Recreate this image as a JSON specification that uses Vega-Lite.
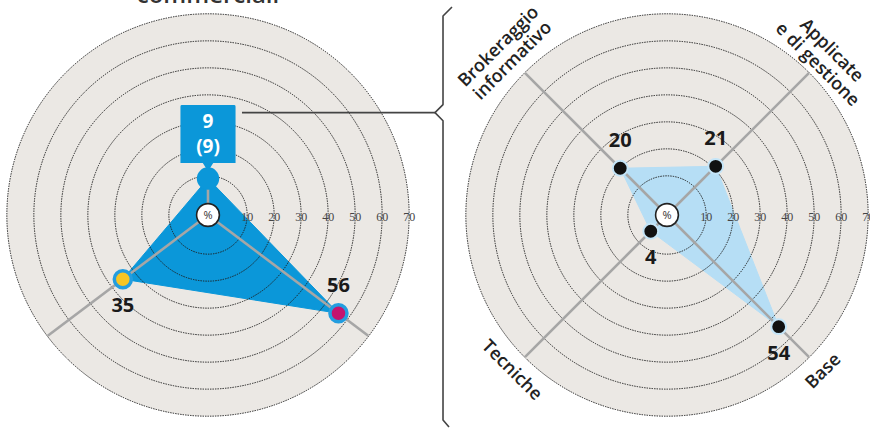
{
  "$schema": "https://vega.github.io/schema/vega-lite/v6.json",
  "width": 870,
  "height": 428,
  "autosize": "none",
  "padding": 0,
  "background": "white",
  "config": {"view": {"stroke": null}},
  "datasets": {
    "rings": [
      {"panel": "left", "ring": 10}, {"panel": "left", "ring": 20}, {"panel": "left", "ring": 30},
      {"panel": "left", "ring": 40}, {"panel": "left", "ring": 50}, {"panel": "left", "ring": 60},
      {"panel": "left", "ring": 70},
      {"panel": "right", "ring": 10}, {"panel": "right", "ring": 20}, {"panel": "right", "ring": 30},
      {"panel": "right", "ring": 40}, {"panel": "right", "ring": 50}, {"panel": "right", "ring": 60},
      {"panel": "right", "ring": 70}
    ],
    "vals": [
      {"panel": "left", "axis": "A", "value": 9, "prev": 9},
      {"panel": "left", "axis": "B", "value": 56},
      {"panel": "left", "axis": "C", "value": 35},
      {"panel": "right", "axis": "Brokeraggio informativo", "value": 20, "title": "Brokeraggio\ninformativo"},
      {"panel": "right", "axis": "Applicate e di gestione", "value": 21, "title": "Applicate\ne di gestione"},
      {"panel": "right", "axis": "Tecniche", "value": 4, "title": "Tecniche"},
      {"panel": "right", "axis": "Base", "value": 54, "title": "Base"}
    ],
    "bracket": [
      {"part": "c", "bx": 12.59, "by": 37.9, "k": 1},
      {"part": "c", "bx": 84.07, "by": 37.9, "k": 2},
      {"part": "b", "bx": 90.37, "by": 77.04, "k": 1},
      {"part": "b", "bx": 87.04, "by": 73.7, "k": 2},
      {"part": "b", "bx": 87.04, "by": 40.9, "k": 3},
      {"part": "b", "bx": 84.07, "by": 37.9, "k": 4},
      {"part": "b", "bx": 87.04, "by": 34.9, "k": 5},
      {"part": "b", "bx": 87.04, "by": -75.93, "k": 6},
      {"part": "b", "bx": 89.26, "by": -78.52, "k": 7}
    ],
    "heading": [{"text": "commerciali"}]
  },
  "encoding": {
    "x": {"field": "X", "type": "quantitative", "scale": {"domain": [-77.037, 245.185], "nice": false, "zero": false}, "axis": null},
    "y": {"field": "Y", "type": "quantitative", "scale": {"domain": [-78.889, 79.63], "nice": false, "zero": false}, "axis": null}
  },
  "layer": [
    {
      "data": {"name": "rings"},
      "transform": [
        {"filter": "datum.ring == 70"},
        {"calculate": "datum.panel == 'left' ? 0 : 170", "as": "X"},
        {"calculate": "0", "as": "Y"},
        {"calculate": "datum.ring + 4.5", "as": "R"}
      ],
      "mark": {"type": "point", "shape": "circle", "filled": true, "fill": "#ebe8e4", "opacity": 1, "strokeWidth": 0},
      "encoding": {
        "size": {"field": "R", "type": "quantitative", "scale": {"type": "pow", "exponent": 2, "domain": [0, 100], "range": [0, 291600], "zero": true, "nice": false}, "legend": null}
      }
    },
    {
      "data": {"name": "vals"},
      "transform": [
        {"filter": "datum.panel == 'left'"},
        {"calculate": "datum.axis=='A'?90:datum.axis=='B'?-37:217", "as": "ang"},
        {"calculate": "(datum.value + 4.5) * cos(datum.ang * PI / 180)", "as": "X"},
        {"calculate": "(datum.value + 4.5) * sin(datum.ang * PI / 180)", "as": "Y"},
        {"calculate": "(datum.ang + 360) % 360", "as": "ord"}
      ],
      "mark": {"type": "line", "interpolate": "linear-closed", "fill": "#0b97d9", "stroke": "#0b97d9", "strokeWidth": 1},
      "encoding": {"order": {"field": "ord", "type": "quantitative"}}
    },
    {
      "data": {"name": "vals"},
      "transform": [
        {"filter": "datum.panel == 'right'"},
        {"calculate": "datum.axis=='Brokeraggio informativo'?135:datum.axis=='Applicate e di gestione'?45:datum.axis=='Tecniche'?225:315", "as": "ang"},
        {"calculate": "170 + (datum.value + 4.5) * cos(datum.ang * PI / 180)", "as": "X"},
        {"calculate": "(datum.value + 4.5) * sin(datum.ang * PI / 180)", "as": "Y"},
        {"calculate": "(datum.ang + 360) % 360", "as": "ord"}
      ],
      "mark": {"type": "line", "interpolate": "linear-closed", "fill": "#b6def5", "stroke": "#b6def5", "strokeWidth": 1},
      "encoding": {"order": {"field": "ord", "type": "quantitative"}}
    },
    {
      "data": {"name": "rings"},
      "transform": [
        {"calculate": "datum.panel == 'left' ? 0 : 170", "as": "X"},
        {"calculate": "0", "as": "Y"},
        {"calculate": "datum.ring + 4.5", "as": "R"}
      ],
      "mark": {"type": "point", "shape": "circle", "filled": false, "fill": null, "opacity": 1, "stroke": "#1e1e1e", "strokeWidth": 1, "strokeDash": [1.4, 1.1]},
      "encoding": {
        "size": {"field": "R", "type": "quantitative", "scale": {"type": "pow", "exponent": 2, "domain": [0, 100], "range": [0, 291600], "zero": true, "nice": false}, "legend": null}
      }
    },
    {
      "data": {"name": "vals"},
      "transform": [
        {"calculate": "datum.axis=='A'?90:datum.axis=='B'?-37:datum.axis=='C'?217:datum.axis=='Brokeraggio informativo'?135:datum.axis=='Applicate e di gestione'?45:datum.axis=='Tecniche'?225:315", "as": "ang"},
        {"calculate": "datum.panel == 'left' ? 0 : 170", "as": "cx"},
        {"calculate": "datum.axis == 'A' ? datum.value + 4.5 : 74.3", "as": "L"},
        {"calculate": "datum.cx", "as": "X"},
        {"calculate": "0", "as": "Y"},
        {"calculate": "datum.cx + datum.L * cos(datum.ang * PI / 180)", "as": "X2"},
        {"calculate": "datum.L * sin(datum.ang * PI / 180)", "as": "Y2"}
      ],
      "mark": {"type": "rule", "stroke": "#a6a6a6", "strokeWidth": 2.6},
      "encoding": {"x2": {"field": "X2"}, "y2": {"field": "Y2"}}
    },
    {
      "data": {"name": "bracket"},
      "mark": {"type": "line", "stroke": "#444444", "strokeWidth": 1.6, "strokeJoin": "round"},
      "encoding": {
        "x": {"field": "bx", "type": "quantitative"},
        "y": {"field": "by", "type": "quantitative"},
        "detail": {"field": "part"},
        "order": {"field": "k", "type": "quantitative"}
      }
    },
    {
      "data": {"name": "vals"},
      "transform": [
        {"filter": "datum.axis == 'A'"},
        {"calculate": "(datum.value + 4.5)", "as": "Y"},
        {"calculate": "0", "as": "X"}
      ],
      "mark": {"type": "point", "shape": "M-0.95,-0.95Q-0.95,-1,-0.9,-1H0.9Q0.95,-1,0.95,-0.95V1H0.18L0,1.28L-0.18,1H-0.95Z", "size": 3364, "filled": true, "fill": "#0b97d9", "opacity": 1, "strokeWidth": 0, "yOffset": -44.5}
    },
    {
      "data": {"name": "vals"},
      "transform": [
        {"filter": "datum.axis == 'A'"},
        {"calculate": "(datum.value + 4.5)", "as": "Y"},
        {"calculate": "0", "as": "X"}
      ],
      "mark": {"type": "point", "shape": "circle", "size": 500, "filled": true, "fill": "#0b97d9", "opacity": 1, "strokeWidth": 0}
    },
    {
      "data": {"name": "vals"},
      "transform": [
        {"filter": "datum.axis == 'A'"},
        {"calculate": "(datum.value + 4.5)", "as": "Y"},
        {"calculate": "0", "as": "X"},
        {"calculate": "datum.value + '\\n(' + datum.prev + ')'", "as": "lbl"}
      ],
      "mark": {"type": "text", "font": "Open Sans", "fontWeight": "bold", "fontSize": 19, "color": "white", "lineBreak": "\n", "lineHeight": 25, "baseline": "middle", "align": "center", "dy": -57},
      "encoding": {"text": {"field": "lbl"}}
    },
    {
      "data": {"name": "vals"},
      "transform": [
        {"filter": "datum.axis == 'B' || datum.axis == 'C'"},
        {"calculate": "datum.axis=='B'?-37:217", "as": "ang"},
        {"calculate": "(datum.value + 4.5) * cos(datum.ang * PI / 180)", "as": "X"},
        {"calculate": "(datum.value + 4.5) * sin(datum.ang * PI / 180)", "as": "Y"}
      ],
      "mark": {"type": "point", "shape": "circle", "size": 290, "filled": true, "opacity": 1, "stroke": "#239ddf", "strokeWidth": 3.5},
      "encoding": {
        "fill": {"field": "axis", "type": "nominal", "scale": {"domain": ["B", "C"], "range": ["#c4146e", "#f6c523"]}, "legend": null}
      }
    },
    {
      "data": {"name": "vals"},
      "transform": [
        {"filter": "datum.panel == 'right'"},
        {"calculate": "datum.axis=='Brokeraggio informativo'?135:datum.axis=='Applicate e di gestione'?45:datum.axis=='Tecniche'?225:315", "as": "ang"},
        {"calculate": "170 + (datum.value + 4.5) * cos(datum.ang * PI / 180)", "as": "X"},
        {"calculate": "(datum.value + 4.5) * sin(datum.ang * PI / 180)", "as": "Y"}
      ],
      "mark": {"type": "point", "shape": "circle", "size": 220, "filled": true, "fill": "#111111", "opacity": 1, "stroke": "#c4e5f8", "strokeWidth": 2}
    },
    {
      "data": {"name": "rings"},
      "transform": [
        {"filter": "datum.ring == 70"},
        {"calculate": "datum.panel == 'left' ? 0 : 170", "as": "X"},
        {"calculate": "0", "as": "Y"}
      ],
      "mark": {"type": "point", "shape": "circle", "size": 520, "filled": true, "fill": "white", "opacity": 1, "stroke": "#222222", "strokeWidth": 1.6}
    },
    {
      "data": {"name": "rings"},
      "transform": [
        {"filter": "datum.ring == 70"},
        {"calculate": "datum.panel == 'left' ? 0 : 170", "as": "X"},
        {"calculate": "0", "as": "Y"}
      ],
      "mark": {"type": "text", "text": "%", "font": "Open Sans", "fontSize": 11, "color": "#333333", "baseline": "middle", "align": "center", "dy": 1}
    },
    {
      "data": {"name": "rings"},
      "transform": [
        {"calculate": "(datum.panel == 'left' ? 0 : 170) + datum.ring + 4.5", "as": "X"},
        {"calculate": "0", "as": "Y"}
      ],
      "mark": {"type": "text", "font": "Liberation Serif", "fontSize": 12, "color": "#444444", "baseline": "middle", "align": "center", "dy": 2},
      "encoding": {"text": {"field": "ring", "type": "quantitative"}}
    },
    {
      "data": {"name": "vals"},
      "transform": [
        {"filter": "datum.axis == 'B' || datum.axis == 'Brokeraggio informativo' || datum.axis == 'Applicate e di gestione'"},
        {"calculate": "datum.axis=='B'?-37:datum.axis=='Brokeraggio informativo'?135:45", "as": "ang"},
        {"calculate": "(datum.panel == 'left' ? 0 : 170) + (datum.value + 4.5) * cos(datum.ang * PI / 180)", "as": "X"},
        {"calculate": "(datum.value + 4.5) * sin(datum.ang * PI / 180)", "as": "Y"}
      ],
      "mark": {"type": "text", "font": "Open Sans", "fontWeight": "bold", "fontSize": 20, "color": "#1a1a1a", "baseline": "middle", "align": "center", "dy": -27},
      "encoding": {"text": {"field": "value", "type": "quantitative"}}
    },
    {
      "data": {"name": "vals"},
      "transform": [
        {"filter": "datum.axis == 'C' || datum.axis == 'Tecniche' || datum.axis == 'Base'"},
        {"calculate": "datum.axis=='C'?217:datum.axis=='Tecniche'?225:315", "as": "ang"},
        {"calculate": "(datum.panel == 'left' ? 0 : 170) + (datum.value + 4.5) * cos(datum.ang * PI / 180)", "as": "X"},
        {"calculate": "(datum.value + 4.5) * sin(datum.ang * PI / 180)", "as": "Y"}
      ],
      "mark": {"type": "text", "font": "Open Sans", "fontWeight": "bold", "fontSize": 20, "color": "#1a1a1a", "baseline": "middle", "align": "center", "dy": 27},
      "encoding": {"text": {"field": "value", "type": "quantitative"}}
    },
    {
      "data": {"name": "vals"},
      "transform": [
        {"filter": "datum.axis == 'Brokeraggio informativo' || datum.axis == 'Base'"},
        {"calculate": "datum.axis=='Base'?315:135", "as": "ang"},
        {"calculate": "datum.axis=='Base'?82:88", "as": "L"},
        {"calculate": "170 + datum.L * cos(datum.ang * PI / 180)", "as": "X"},
        {"calculate": "datum.L * sin(datum.ang * PI / 180)", "as": "Y"}
      ],
      "mark": {"type": "text", "font": "Open Sans", "fontWeight": 600, "fontSize": 18, "color": "#222222", "baseline": "middle", "align": "center", "angle": 315, "lineBreak": "\n", "lineHeight": 20},
      "encoding": {"text": {"field": "title"}}
    },
    {
      "data": {"name": "vals"},
      "transform": [
        {"filter": "datum.axis == 'Applicate e di gestione' || datum.axis == 'Tecniche'"},
        {"calculate": "datum.axis=='Tecniche'?81.5:86", "as": "L"},
        {"calculate": "datum.axis=='Tecniche'?225:45", "as": "ang"},
        {"calculate": "170 + datum.L * cos(datum.ang * PI / 180)", "as": "X"},
        {"calculate": "datum.L * sin(datum.ang * PI / 180)", "as": "Y"}
      ],
      "mark": {"type": "text", "font": "Open Sans", "fontWeight": 600, "fontSize": 18, "color": "#222222", "baseline": "middle", "align": "center", "angle": 45, "lineBreak": "\n", "lineHeight": 20},
      "encoding": {"text": {"field": "title"}}
    },
    {
      "data": {"name": "heading"},
      "transform": [
        {"calculate": "0", "as": "X"},
        {"calculate": "79.63", "as": "Y"}
      ],
      "mark": {"type": "text", "font": "Open Sans", "fontWeight": 600, "fontSize": 24, "color": "#333333", "baseline": "alphabetic", "align": "center", "dy": 3},
      "encoding": {"text": {"field": "text"}}
    }
  ]
}
